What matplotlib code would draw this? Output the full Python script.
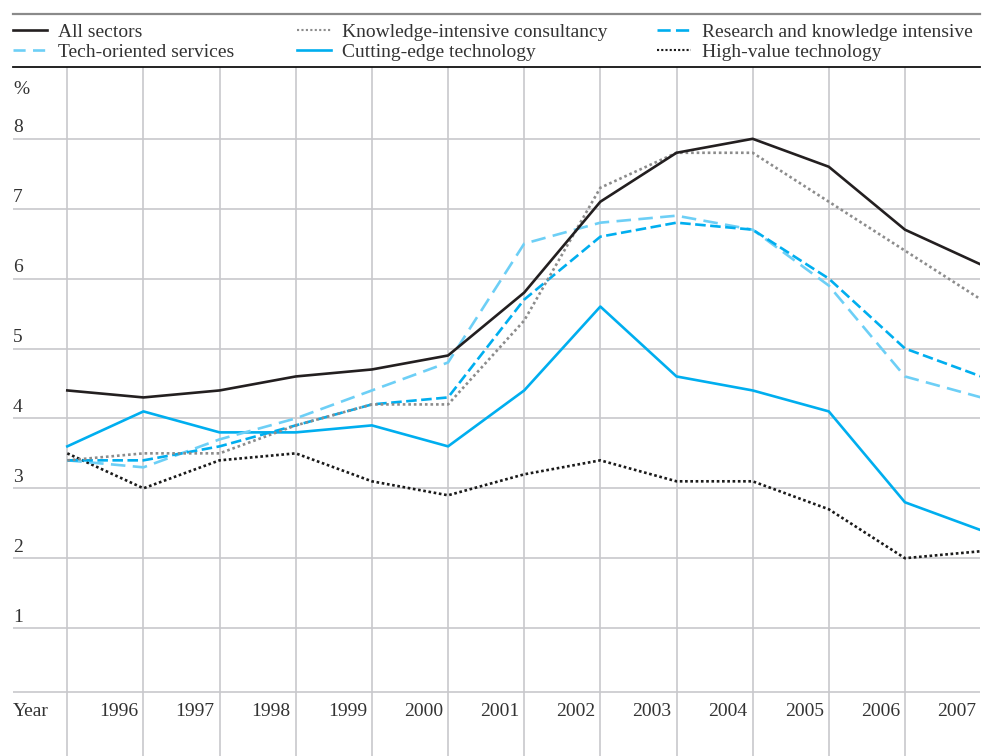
import matplotlib
matplotlib.use("Agg")
import matplotlib.pyplot as plt
from matplotlib.lines import Line2D
import matplotlib.transforms as mtransforms

years = [1995, 1996, 1997, 1998, 1999, 2000, 2001, 2002, 2003, 2004, 2005, 2006, 2007]
year_labels = ["1996", "1997", "1998", "1999", "2000", "2001", "2002", "2003", "2004", "2005", "2006", "2007"]
y_ticks = [1, 2, 3, 4, 5, 6, 7, 8]

all_sectors = [4.4, 4.3, 4.4, 4.6, 4.7, 4.9, 5.8, 7.1, 7.8, 8.0, 7.6, 6.7, 6.2]
knowledge_consultancy = [3.4, 3.5, 3.5, 3.9, 4.2, 4.2, 5.4, 7.3, 7.8, 7.8, 7.1, 6.4, 5.7]
research_knowledge = [3.4, 3.4, 3.6, 3.9, 4.2, 4.3, 5.7, 6.6, 6.8, 6.7, 6.0, 5.0, 4.6]
tech_services = [3.4, 3.3, 3.7, 4.0, 4.4, 4.8, 6.5, 6.8, 6.9, 6.7, 5.9, 4.6, 4.3]
cutting_edge = [3.6, 4.1, 3.8, 3.8, 3.9, 3.6, 4.4, 5.6, 4.6, 4.4, 4.1, 2.8, 2.4]
high_value = [3.5, 3.0, 3.4, 3.5, 3.1, 2.9, 3.2, 3.4, 3.1, 3.1, 2.7, 2.0, 2.1]

names = ["All sectors", "Knowledge-intensive consultancy", "Research and knowledge intensive",
         "Tech-oriented services", "Cutting-edge technology", "High-value technology"]

plt.rcParams['font.family'] = ['Liberation Serif', 'DejaVu Serif']
TXT = "#333333"
GRID = "#c8c8cc"
CYAN = "#00aeef"
LCYAN = "#6dcff6"
FS = 14

W, H = 984, 756
fig = plt.figure(figsize=(W / 100, H / 100), dpi=100)

# axes geometry in pixels
left_px, right_px, top_px, bot_px = 13, 980, 67.3, 756
ax = fig.add_axes([left_px / W, 1 - bot_px / H, (right_px - left_px) / W, (bot_px - top_px) / H])
ppu_y = 69.9
y0_px = 698.0
ax.set_ylim((y0_px - bot_px) / ppu_y, (y0_px - top_px) / ppu_y)
ppu_x = 76.15
x0_px = 67.3
ax.set_xlim(1995 + (left_px - x0_px) / ppu_x, 1995 + (right_px - x0_px) / ppu_x)

for s in ["left", "right", "bottom"]:
    ax.spines[s].set_visible(False)
ax.spines["top"].set_color("#111111")
ax.spines["top"].set_linewidth(1.3)
ax.set_xticks([])
ax.set_yticks([])

# grid
for yv in y_ticks:
    ax.axhline(yv, color=GRID, lw=1.2, zorder=1)
ax.axhline(0.09, color=GRID, lw=1.2, zorder=1)
for yr in years:
    ax.axvline(yr, color=GRID, lw=1.2, zorder=1)

lw = 1.9
ax.plot(years, high_value, color="#1a1a1a", lw=lw, linestyle=(0, (1, 1.0)), zorder=3)
ax.plot(years, cutting_edge, color=CYAN, lw=lw, zorder=3)
ax.plot(years, tech_services, color=LCYAN, lw=lw, linestyle=(0, (5.5, 2.8)), zorder=3)
ax.plot(years, research_knowledge, color=CYAN, lw=lw, linestyle=(0, (4, 1.7)), zorder=4)
ax.plot(years, knowledge_consultancy, color="#8c8c8c", lw=lw, linestyle=(0, (1, 1.1)), zorder=4)
ax.plot(years, all_sectors, color="#231f20", lw=lw, zorder=5)

# y tick labels (above gridlines)
tr = mtransforms.blended_transform_factory(ax.transAxes, ax.transData)
off = 11 / ppu_y
for yv in y_ticks:
    ax.text(0, yv + off, str(yv), transform=tr, ha="left", va="center", fontsize=FS, color=TXT)
ax.text(0, (y0_px - 89) / ppu_y, "%", transform=tr, ha="left", va="center", fontsize=FS, color=TXT)

# x labels
ylab = (y0_px - 712) / ppu_y
for yr, lab in zip(years[1:], year_labels):
    ax.text(yr - 5 / ppu_x, ylab, lab, ha="right", va="center", fontsize=FS, color=TXT)
ax.text(0, ylab, "Year", transform=tr, ha="left", va="center", fontsize=FS, color=TXT)

# top gray rule
fig.add_artist(Line2D([left_px / W, right_px / W], [1 - 14 / H, 1 - 14 / H],
                      color="#8a8a8a", lw=1.6, transform=fig.transFigure))

# legends (three columns)
h_all = Line2D([], [], color="#231f20", lw=lw)
h_kic = Line2D([], [], color="#8c8c8c", lw=lw * 0.8, linestyle=(0, (1, 1.1)))
h_rki = Line2D([], [], color=CYAN, lw=lw, linestyle=(0, (5.0, 2.0)))
h_tos = Line2D([], [], color=LCYAN, lw=lw, linestyle=(0, (4.6, 2.8)))
h_cet = Line2D([], [], color=CYAN, lw=lw)
h_hvt = Line2D([], [], color="#1a1a1a", lw=lw * 0.8, linestyle=(0, (1, 1.0)))
cols = [((h_all, h_tos), (names[0], names[3]), 13),
        ((h_kic, h_cet), (names[1], names[4]), 297),
        ((h_rki, h_hvt), (names[2], names[5]), 657)]
for hs, labs, xpx in cols:
    leg = fig.legend(hs, labs, loc="upper left",
                     bbox_to_anchor=(xpx / W, 1 - 23 / H), bbox_transform=fig.transFigure,
                     frameon=False, fontsize=FS, handlelength=1.75, handletextpad=0.55,
                     labelspacing=0.14, borderaxespad=0, borderpad=0)
    for t in leg.get_texts():
        t.set_color(TXT)

fig.savefig("out.png", dpi=100)
